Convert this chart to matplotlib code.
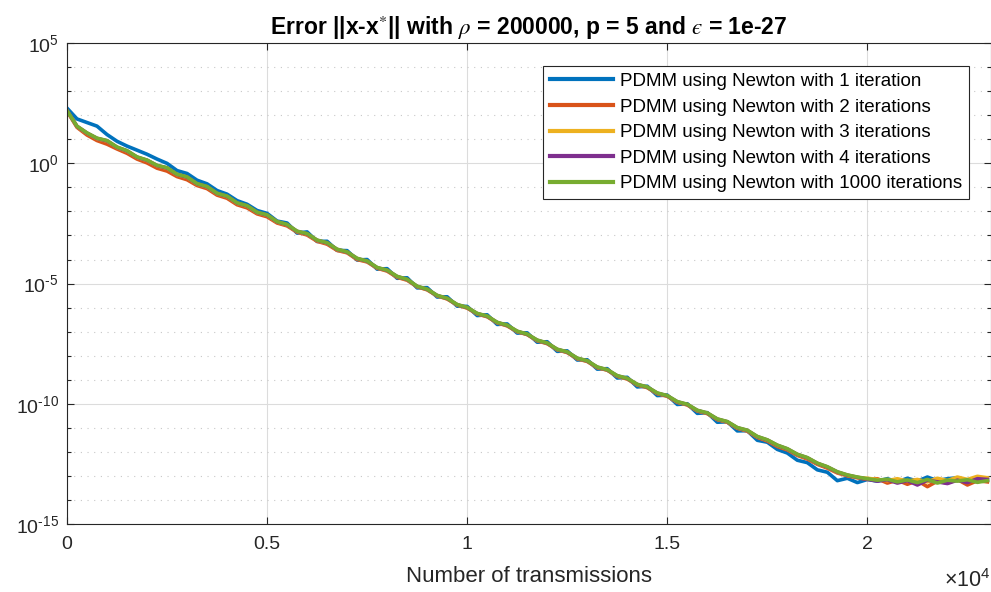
import numpy as np
import matplotlib
matplotlib.use('Agg')
import matplotlib.pyplot as plt

plt.rcParams['font.family'] = ['Liberation Sans', 'DejaVu Sans']
plt.rcParams['mathtext.fontset'] = 'custom'
plt.rcParams['mathtext.rm'] = 'Liberation Sans'
plt.rcParams['mathtext.it'] = 'Liberation Sans:italic'
plt.rcParams['mathtext.bf'] = 'Liberation Sans:bold'
plt.rcParams['axes.unicode_minus'] = False

# ---------------- data (log10 of the error) ----------------
transmissions = list(range(0, 23001, 250))

log_err_1 = [2.30, 1.85, 1.70, 1.55, 1.20, 0.92, 0.72, 0.55, 0.38, 0.18,
             0.00, -0.30, -0.42, -0.70, -0.85, -1.13, -1.28, -1.55, -1.70, -1.96,
             -2.08, -2.40, -2.48, -2.90, -2.85, -3.25, -3.24, -3.62, -3.63, -4.02,
             -4.00, -4.40, -4.38, -4.78, -4.76, -5.18, -5.17, -5.56, -5.55, -5.94,
             -5.95, -6.33, -6.30, -6.70, -6.68, -7.06, -7.05, -7.44, -7.42, -7.82,
             -7.80, -8.18, -8.17, -8.56, -8.54, -8.93, -8.90, -9.30, -9.27, -9.66,
             -9.64, -10.03, -10.00, -10.40, -10.37, -10.77, -10.75, -11.13, -11.12, -11.52,
             -11.60, -11.90, -12.05, -12.35, -12.45, -12.75, -12.85, -13.20, -13.10, -13.28,
             -13.15, -13.22, -13.12, -13.25, -13.10, -13.22, -13.05, -13.20, -13.12, -13.08,
             -13.20, -13.15, -13.18]

log_err_2 = [2.18, 1.50, 1.18, 0.95, 0.80, 0.60, 0.42, 0.18, 0.02, -0.20,
             -0.32, -0.55, -0.68, -0.92, -1.05, -1.32, -1.45, -1.72, -1.85, -2.10,
             -2.22, -2.48, -2.60, -2.86, -2.98, -3.24, -3.36, -3.62, -3.72, -4.00,
             -4.10, -4.36, -4.48, -4.74, -4.86, -5.13, -5.26, -5.51, -5.64, -5.89,
             -6.02, -6.26, -6.38, -6.63, -6.76, -7.00, -7.12, -7.38, -7.50, -7.75,
             -7.87, -8.13, -8.24, -8.50, -8.60, -8.86, -8.97, -9.22, -9.33, -9.58,
             -9.69, -9.94, -10.05, -10.30, -10.41, -10.66, -10.77, -11.02, -11.14, -11.40,
             -11.55, -11.78, -11.92, -12.15, -12.30, -12.52, -12.68, -12.88, -13.00, -13.08,
             -13.15, -13.12, -13.30, -13.18, -13.35, -13.20, -13.45, -13.22, -13.30, -13.15,
             -13.38, -13.20, -13.25]

log_err_3 = [2.19, 1.53, 1.25, 1.03, 0.93, 0.66, 0.51, 0.25, 0.12, -0.10,
             -0.20, -0.47, -0.58, -0.86, -0.98, -1.26, -1.38, -1.66, -1.78, -2.05,
             -2.16, -2.44, -2.56, -2.84, -2.94, -3.21, -3.32, -3.59, -3.70, -3.97,
             -4.08, -4.35, -4.46, -4.72, -4.84, -5.13, -5.25, -5.51, -5.63, -5.89,
             -6.01, -6.26, -6.37, -6.63, -6.75, -7.00, -7.12, -7.37, -7.49, -7.75,
             -7.86, -8.12, -8.23, -8.49, -8.60, -8.85, -8.96, -9.21, -9.32, -9.57,
             -9.68, -9.93, -10.04, -10.29, -10.40, -10.65, -10.76, -11.01, -11.12, -11.38,
             -11.52, -11.74, -11.89, -12.12, -12.26, -12.49, -12.64, -12.85, -12.98, -13.07,
             -13.10, -13.15, -13.20, -13.12, -13.22, -13.15, -13.25, -13.10, -13.20, -13.05,
             -13.15, -13.02, -13.08]

log_err_4 = [2.20, 1.54, 1.26, 1.04, 0.94, 0.67, 0.52, 0.26, 0.13, -0.09,
             -0.19, -0.46, -0.57, -0.85, -0.97, -1.25, -1.37, -1.65, -1.77, -2.04,
             -2.15, -2.43, -2.55, -2.83, -2.93, -3.20, -3.31, -3.58, -3.69, -3.96,
             -4.07, -4.34, -4.45, -4.71, -4.83, -5.12, -5.24, -5.50, -5.62, -5.88,
             -6.00, -6.25, -6.36, -6.62, -6.74, -6.99, -7.11, -7.36, -7.48, -7.74,
             -7.85, -8.11, -8.22, -8.48, -8.59, -8.84, -8.95, -9.20, -9.31, -9.56,
             -9.67, -9.92, -10.03, -10.28, -10.39, -10.64, -10.75, -11.00, -11.11, -11.37,
             -11.51, -11.73, -11.88, -12.11, -12.25, -12.48, -12.63, -12.84, -12.97, -13.06,
             -13.14, -13.22, -13.16, -13.30, -13.20, -13.38, -13.18, -13.25, -13.32, -13.18,
             -13.28, -13.12, -13.15]

log_err_1000 = [2.20, 1.55, 1.27, 1.05, 0.95, 0.68, 0.53, 0.27, 0.14, -0.08,
                -0.18, -0.45, -0.56, -0.84, -0.96, -1.24, -1.36, -1.64, -1.76, -2.03,
                -2.14, -2.42, -2.54, -2.82, -2.92, -3.19, -3.30, -3.57, -3.68, -3.95,
                -4.06, -4.33, -4.44, -4.70, -4.82, -5.11, -5.23, -5.49, -5.61, -5.87,
                -5.99, -6.24, -6.35, -6.61, -6.73, -6.98, -7.10, -7.35, -7.47, -7.73,
                -7.84, -8.10, -8.21, -8.47, -8.58, -8.83, -8.94, -9.19, -9.30, -9.55,
                -9.66, -9.91, -10.02, -10.27, -10.38, -10.63, -10.74, -10.99, -11.10, -11.36,
                -11.50, -11.72, -11.87, -12.10, -12.24, -12.47, -12.62, -12.83, -12.96, -13.05,
                -13.12, -13.18, -13.14, -13.25, -13.17, -13.28, -13.15, -13.30, -13.18, -13.22,
                -13.16, -13.27, -13.20]

labels = ['PDMM using Newton with 1 iteration',
          'PDMM using Newton with 2 iterations',
          'PDMM using Newton with 3 iterations',
          'PDMM using Newton with 4 iterations',
          'PDMM using Newton with 1000 iterations']
colors = ['#0072BD', '#D95319', '#EDB120', '#7E2F8E', '#77AC30']
series = [log_err_1, log_err_2, log_err_3, log_err_4, log_err_1000]

x_ticks = [0, 5000, 10000, 15000, 20000]
x_tick_labels = ['0', '0.5', '1', '1.5', '2']
y_major = [1e-15, 1e-10, 1e-5, 1e0, 1e5]
y_tick_labels = [r'$10^{\text{-15}}$', r'$10^{\text{-10}}$', r'$10^{\text{-5}}$',
                 r'$10^{0}$', r'$10^{5}$']
y_minor = [10.0 ** k for k in range(-15, 6)]

# ---------------- plot ----------------
fig = plt.figure(figsize=(9.91, 5.92), dpi=100)
ax = fig.add_axes([0.0676, 0.115, 0.932, 0.812])

for vals, lab, col in zip(series, labels, colors):
    ax.semilogy(transmissions, 10.0 ** np.array(vals), color=col, lw=2.6, label=lab)

ax.set_xlim(0, 23080)
ax.set_ylim(1e-15, 1e5)
ax.set_xticks(x_ticks)
ax.set_xticklabels(x_tick_labels)
ax.set_yticks(y_major)
ax.set_yticklabels(y_tick_labels)
ax.set_yticks(y_minor, minor=True)
ax.yaxis.set_minor_formatter(matplotlib.ticker.NullFormatter())

ax.grid(True, which='major', color='#dcdcdc', lw=0.8, ls='-')
ax.grid(True, which='minor', axis='y', color='#c8c8c8', lw=0.8, ls=(0, (1, 5)))
ax.set_axisbelow(True)

ax.tick_params(which='both', direction='in', top=True, right=True,
               color='#262626', labelsize=14, labelcolor='#262626', width=0.8)
ax.tick_params(which='major', length=5)
ax.tick_params(which='minor', length=3)
ax.tick_params(axis='x', pad=9)
ax.tick_params(axis='y', pad=6)
for s in ax.spines.values():
    s.set_color('#262626')
    s.set_linewidth(0.8)

ax.set_xlabel('Number of transmissions', fontsize=16, color='#262626', labelpad=9)
ax.text(1.0, -0.094, r'$\times10^{4}$', transform=ax.transAxes, ha='right', va='top',
        fontsize=15.5, color='#262626')
ax.set_title('Error ||x-x$^{*}$|| with $\\rho$ = 200000, p = 5 and $\u03f5$ = 1e-27',
             fontsize=16.5, fontweight='bold', color='black', pad=6, math_fontfamily='stix')

leg = ax.legend(loc='upper right', bbox_to_anchor=(0.9762, 0.952), fontsize=13.5,
                frameon=True, fancybox=False, framealpha=1, edgecolor='#262626',
                handlelength=3.4, handletextpad=0.35, labelspacing=0.45, borderpad=0.35,
                borderaxespad=0)
leg.get_frame().set_linewidth(0.8)
for line in leg.get_lines():
    line.set_linewidth(3)

fig.savefig('out.png', dpi=100)
